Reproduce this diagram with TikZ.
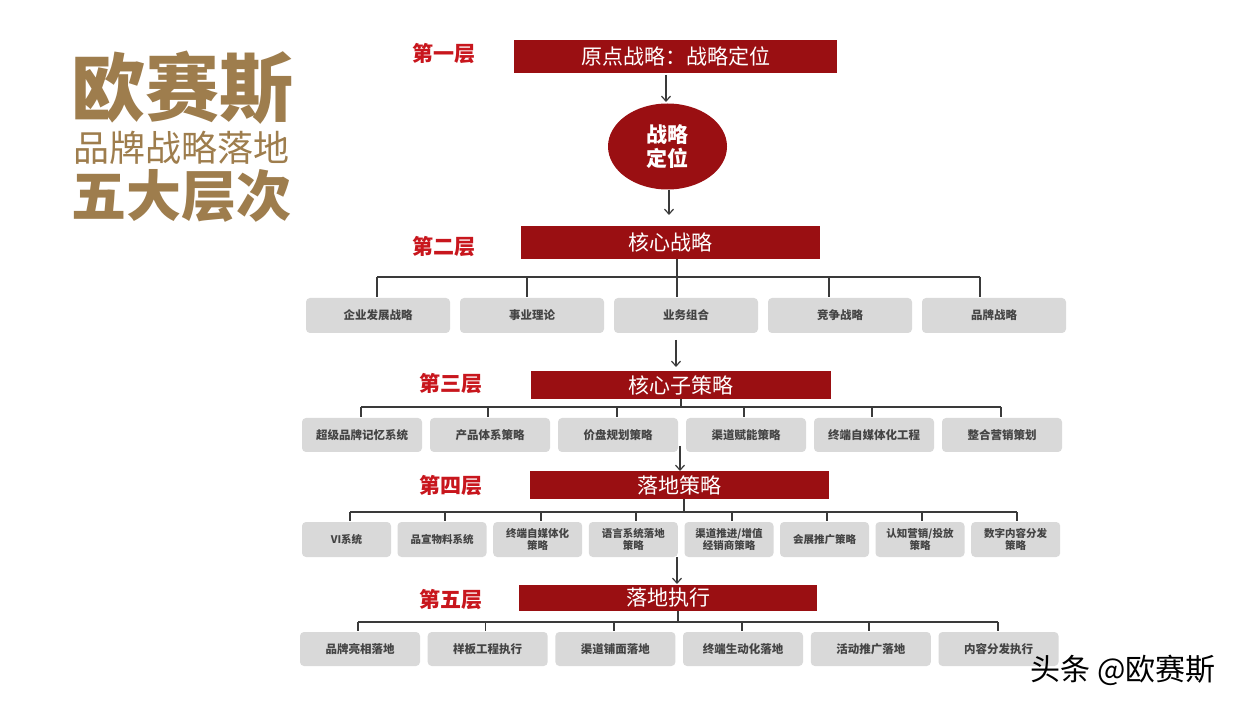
\documentclass[tikz,border=0pt]{standalone}
\usepackage{fontspec}
\setmainfont{Noto Sans CJK SC}
\usetikzlibrary{shapes.geometric,arrows.meta}
\definecolor{boxred}{HTML}{9A0F12}
\definecolor{labelred}{HTML}{C8161D}
\definecolor{gold}{HTML}{9E7D4D}
\definecolor{boxgray}{HTML}{D9D9D9}
\definecolor{graytext}{HTML}{444444}
\definecolor{linegray}{HTML}{3A3A3A}
\begin{document}
\begin{tikzpicture}[x=1pt,y=-1pt,
  redbox/.style={fill=boxred,text=white,font=\fontsize{21}{24}\selectfont,inner sep=0pt},
  graybox/.style={fill=boxgray,rounded corners=4pt,text=graytext,font=\bfseries\fontsize{11.5}{13}\selectfont,inner sep=0pt,minimum width=120pt,minimum height=34pt,align=center},
  smallbox/.style={graybox,minimum width=89pt,minimum height=35pt,font=\bfseries\fontsize{10.5}{12.5}\selectfont},
  layerlabel/.style={text=labelred,font=\bfseries\fontsize{21}{24}\selectfont,inner sep=0pt},
  titletext/.style={text=gold,inner sep=0pt},
  tree/.style={draw=linegray,line width=1.4pt},
  arr/.style={draw=linegray,line width=1.2pt,-{Straight Barb[length=5pt,width=9pt]}}]
\useasboundingbox (0,0) rectangle (1240,708);
\fill[white] (0,0) rectangle (1240,708);

% title
\node[titletext,font=\bfseries\fontsize{74}{74}\selectfont] (t1) at (182,88) {欧赛斯};
\node[titletext,font=\fontsize{36}{36}\selectfont] (t2) at (181,148) {品牌战略落地};
\node[titletext,font=\bfseries\fontsize{55}{55}\selectfont] (t3) at (181,196) {五大层次};

% layer labels
\node[layerlabel] (lab1) at (444,54) {第一层};
\node[layerlabel] (lab2) at (444,247) {第二层};
\node[layerlabel] (lab3) at (451,384) {第三层};
\node[layerlabel] (lab4) at (451,486) {第四层};
\node[layerlabel] (lab5) at (451,600) {第五层};

% layer 1
\node[redbox,minimum width=323pt,minimum height=33pt] (L1) at (675.5,56.5) {原点战略：战略定位};
\node[ellipse,fill=boxred,text=white,minimum width=119pt,minimum height=86pt,inner sep=0pt,
      font=\bfseries\fontsize{21}{24}\selectfont,align=center] (E) at (667.5,146.5) {战略\\定位};
\coordinate (a1s) at (666,75);
\coordinate (a1e) at (666,102);
\draw[arr] (a1s) -- (a1e);
\coordinate (a2s) at (669,190);
\coordinate (a2e) at (669,215);
\draw[arr] (a2s) -- (a2e);

% layer 2
\node[redbox,minimum width=299pt,minimum height=33pt] (L2) at (670.5,242.5) {核心战略};
\coordinate (h2) at (677,277);
\node[graybox,minimum width=144pt,minimum height=35pt] (r21) at (378,315.5) {企业发展战略};
\node[graybox,minimum width=144pt,minimum height=35pt] (r22) at (532,315.5) {事业理论};
\node[graybox,minimum width=144pt,minimum height=35pt] (r23) at (686,315.5) {业务组合};
\node[graybox,minimum width=144pt,minimum height=35pt] (r24) at (840,315.5) {竞争战略};
\node[graybox,minimum width=144pt,minimum height=35pt] (r25) at (994,315.5) {品牌战略};
\draw[tree] (L2.south -| h2) -- (h2);
\draw[tree] ([xshift=-1pt]r21.north |- h2) -- ([xshift=-14pt]r25.north |- h2);
\foreach \n/\dx in {r21/-1,r22/-5,r23/-9,r24/-11,r25/-14}{
  \draw[tree] ([xshift=\dx pt]\n.north |- h2) -- ([xshift=\dx pt,yshift=1pt]\n.north);
}
\coordinate (a3s) at (676,340);
\coordinate (a3e) at (676,367);
\draw[arr] (a3s) -- (a3e);

% layer 3
\node[redbox,minimum width=300pt,minimum height=28pt] (L3) at (681,385) {核心子策略};
\coordinate (h3) at (681,407);
\node[graybox] (r31) at (362,435) {超级品牌记忆系统};
\node[graybox] (r32) at (490,435) {产品体系策略};
\node[graybox] (r33) at (618,435) {价盘规划策略};
\node[graybox] (r34) at (746,435) {渠道赋能策略};
\node[graybox] (r35) at (874,435) {终端自媒体化工程};
\node[graybox] (r36) at (1002,435) {整合营销策划};
\draw[tree] (L3.south -| h3) -- (h3);
\draw[tree] ([xshift=-1pt]r31.north |- h3) -- ([xshift=-1pt]r36.north |- h3);
\foreach \n/\dx in {r31/-1,r32/-2,r33/-1,r34/-2,r35/-2,r36/-1}{
  \draw[tree] ([xshift=\dx pt]\n.north |- h3) -- ([xshift=\dx pt,yshift=1pt]\n.north);
}
\coordinate (a4s) at (680,446);
\coordinate (a4e) at (680,471);
\draw[arr] (a4s) -- (a4e);

% layer 4
\node[redbox,minimum width=299pt,minimum height=28pt] (L4) at (679.5,485) {落地策略};
\coordinate (h4) at (684,512);
\node[smallbox] (r41) at (346.5,539.5) {VI系统};
\node[smallbox] (r42) at (442,539.5) {品宣物料系统};
\node[smallbox] (r43) at (537.7,539.5) {终端自媒体化\\策略};
\node[smallbox] (r44) at (633.3,539.5) {语言系统落地\\策略};
\node[smallbox] (r45) at (729,539.5) {渠道推进/增值\\经销商策略};
\node[smallbox] (r46) at (824.5,539.5) {会展推广策略};
\node[smallbox] (r47) at (920,539.5) {认知营销/投放\\策略};
\node[smallbox] (r48) at (1015.7,539.5) {数字内容分发\\策略};
\draw[tree] (L4.south -| h4) -- (h4);
\draw[tree] ([xshift=3.5pt]r41.north |- h4) -- ([xshift=1.3pt]r48.north |- h4);
\foreach \n/\dx in {r41/3.5,r42/3,r43/3.3,r44/2.7,r45/3,r46/2.5,r47/2,r48/1.3}{
  \draw[tree] ([xshift=\dx pt]\n.north |- h4) -- ([xshift=\dx pt,yshift=1pt]\n.north);
}
\coordinate (a5s) at (677,557);
\coordinate (a5e) at (677,584);
\draw[arr] (a5s) -- (a5e);

% layer 5
\node[redbox,minimum width=298pt,minimum height=26pt] (L5) at (668,597.5) {落地执行};
\coordinate (h5) at (678,622);
\node[graybox] (r51) at (360,649) {品牌亮相落地};
\node[graybox] (r52) at (487.7,649) {样板工程执行};
\node[graybox] (r53) at (615.4,649) {渠道铺面落地};
\node[graybox] (r54) at (743,649) {终端生动化落地};
\node[graybox] (r55) at (870.8,649) {活动推广落地};
\node[graybox] (r56) at (998.5,649) {内容分发执行};
\draw[tree] (L5.south -| h5) -- (h5);
\draw[tree] ([xshift=-2pt]r51.north |- h5) -- ([xshift=-0.5pt]r56.north |- h5);
\foreach \n/\dx in {r51/-2,r52/-2.2,r53/-1.4,r54/-1,r55/-1.8,r56/-0.5}{
  \draw[tree] ([xshift=\dx pt]\n.north |- h5) -- ([xshift=\dx pt,yshift=1pt]\n.north);
}

% watermark
\node[font=\fontsize{30}{30}\selectfont,text=black,inner sep=0pt] (wm) at (1123,670) {头条 @欧赛斯};
\end{tikzpicture}
\end{document}
